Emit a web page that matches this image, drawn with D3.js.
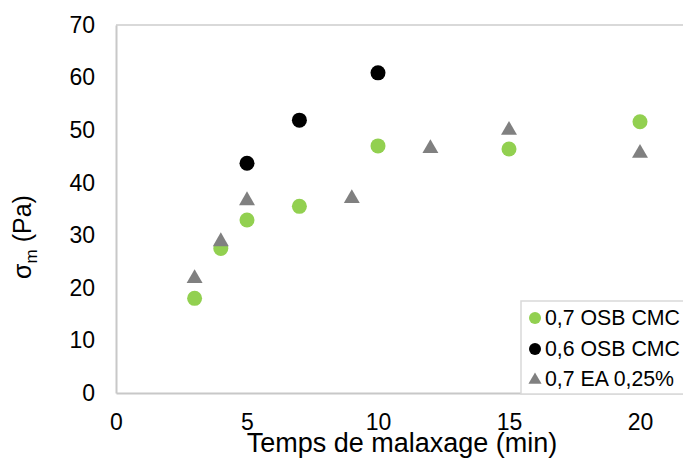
<!DOCTYPE html>
<html><head><meta charset="utf-8">
<script src="https://cdn.jsdelivr.net/npm/d3@7"></script>
<style>body{margin:0;background:#fff;overflow:hidden}text{font-family:"Liberation Sans",Arial,sans-serif;}</style>
</head><body>
<svg id="c" width="683" height="459"></svg>
<script>
const xTicks = [0, 5, 10, 15, 20];
const yTicks = [0, 10, 20, 30, 40, 50, 60, 70];
const osb07X = [3, 4, 5, 7, 10, 15, 20];
const osb07Y = [18.0, 27.5, 32.9, 35.5, 47.0, 46.4, 51.6];
const osb06X = [5, 7, 10];
const osb06Y = [43.7, 51.9, 60.9];
const eaX = [3, 4, 5, 9, 12, 15, 20];
const eaY = [22.0, 29.0, 36.8, 37.2, 46.7, 50.2, 45.8];
const seriesNames = ["0,7 OSB CMC", "0,6 OSB CMC", "0,7 EA 0,25%"];
const colors = ["#92d050", "#000000", "#808080"];

const svg = d3.select("#c");
const x = d3.scaleLinear().domain([0, 25]).range([116, 771]);
const y = d3.scaleLinear().domain([0, 70]).range([393, 25]);

// plot frame top border
svg.append("line").attr("x1", 116).attr("x2", 683).attr("y1", y(70)).attr("y2", y(70))
  .attr("stroke", "#d9d9d9").attr("stroke-width", 2);

// axes
const xAxis = svg.append("g").attr("transform", `translate(0,${y(0)})`)
  .call(d3.axisBottom(x).tickValues(xTicks).tickSize(0).tickPadding(21));
xAxis.select(".domain").attr("stroke", "#c8c8c8").attr("stroke-width", 2);
xAxis.selectAll("text").attr("font-size", 23).attr("fill", "#000").attr("font-family", "Liberation Sans, Arial, sans-serif");

const yAxis = svg.append("g").attr("transform", `translate(${x(0)},0)`)
  .call(d3.axisLeft(y).tickValues(yTicks).tickSize(0).tickPadding(21));
yAxis.select(".domain").attr("stroke", "#c8c8c8").attr("stroke-width", 2);
yAxis.selectAll("text").attr("font-size", 23).attr("fill", "#000").attr("font-family", "Liberation Sans, Arial, sans-serif");

// axis titles
svg.append("text").attr("x", 402).attr("y", 452).attr("text-anchor", "middle")
  .attr("font-size", 27).text("Temps de malaxage (min)");
const yl = svg.append("text").attr("transform", "translate(31,237) rotate(-90)")
  .attr("text-anchor", "middle").attr("font-size", 25);
yl.append("tspan").text("σ");
yl.append("tspan").attr("font-size", 17).attr("dy", 6).text("m");
yl.append("tspan").attr("dy", -6).text(" (Pa)");

// points
const tri = d3.symbol().type(d3.symbolTriangle).size(110);
svg.append("g").selectAll("circle").data(osb07X.map((d, i) => [d, osb07Y[i]])).join("circle")
  .attr("cx", d => x(d[0])).attr("cy", d => y(d[1])).attr("r", 7.5).attr("fill", colors[0]);
svg.append("g").selectAll("circle").data(osb06X.map((d, i) => [d, osb06Y[i]])).join("circle")
  .attr("cx", d => x(d[0])).attr("cy", d => y(d[1])).attr("r", 7.5).attr("fill", colors[1]);
svg.append("g").selectAll("path").data(eaX.map((d, i) => [d, eaY[i]])).join("path")
  .attr("d", tri).attr("transform", d => `translate(${x(d[0])},${y(d[1]) + 1})`).attr("fill", colors[2]);

// legend
const lg = svg.append("g");
lg.append("rect").attr("x", 521).attr("y", 301).attr("width", 170).attr("height", 93)
  .attr("fill", "#fff").attr("stroke", "#d9d9d9").attr("stroke-width", 1.5);
const rows = [318, 349, 379];
seriesNames.forEach((n, i) => {
  if (i < 2) lg.append("circle").attr("cx", 535).attr("cy", rows[i]).attr("r", 6).attr("fill", colors[i]);
  else lg.append("path").attr("d", d3.symbol().type(d3.symbolTriangle).size(75))
    .attr("transform", `translate(535,${rows[i] + 1})`).attr("fill", colors[i]);
  lg.append("text").attr("x", 545).attr("y", rows[i]).attr("dy", "0.35em")
    .attr("font-size", 21.3).text(n);
});
</script>
</body></html>
